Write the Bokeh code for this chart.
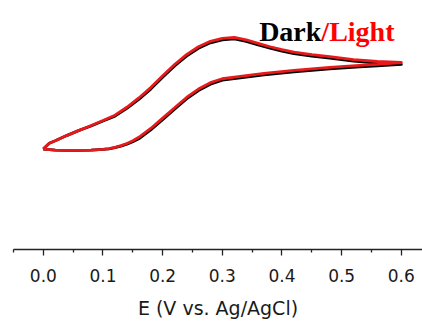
from bokeh.plotting import figure
from bokeh.models import Range1d, FixedTicker, PrintfTickFormatter, Label
from bokeh.embed import file_html
from bokeh.resources import INLINE

# Potential (V vs. Ag/AgCl) and current (arbitrary units) of the CV loops
E_forward = [0.00, 0.02, 0.04, 0.06, 0.08, 0.10, 0.11, 0.12, 0.13, 0.14, 0.15, 0.16,
             0.17, 0.18, 0.20, 0.22, 0.24, 0.26, 0.28, 0.30, 0.33, 0.37, 0.42, 0.48,
             0.53, 0.56, 0.60]
E_reverse = [0.60, 0.56, 0.52, 0.48, 0.45, 0.42, 0.40, 0.38, 0.36, 0.34, 0.32, 0.30,
             0.28, 0.26, 0.24, 0.22, 0.20, 0.18, 0.16, 0.14, 0.12, 0.10, 0.08, 0.06,
             0.04, 0.02, 0.01, 0.00]

light_forward = [0.00, -0.02, -0.026, -0.026, -0.02, -0.006, 0.01, 0.036, 0.07, 0.114,
                 0.17, 0.24, 0.33, 0.42, 0.63, 0.84, 1.05, 1.22, 1.35, 1.43, 1.48,
                 1.54, 1.60, 1.66, 1.70, 1.72, 1.76]
light_reverse = [1.76, 1.78, 1.82, 1.88, 1.92, 1.97, 2.02, 2.08, 2.15, 2.22, 2.27, 2.25,
                 2.19, 2.08, 1.92, 1.72, 1.49, 1.25, 1.04, 0.85, 0.69, 0.58, 0.48, 0.38,
                 0.28, 0.17, 0.12, 0.00]

dark_forward = [0.00, -0.02, -0.026, -0.026, -0.02, -0.006, 0.005, 0.03, 0.06, 0.10,
                0.15, 0.21, 0.30, 0.39, 0.60, 0.81, 1.02, 1.19, 1.32, 1.40, 1.45,
                1.51, 1.57, 1.63, 1.67, 1.69, 1.72]
dark_reverse = [1.72, 1.75, 1.79, 1.85, 1.89, 1.94, 1.99, 2.05, 2.12, 2.19, 2.24, 2.22,
                2.16, 2.05, 1.89, 1.69, 1.46, 1.22, 1.01, 0.83, 0.67, 0.57, 0.47, 0.38,
                0.28, 0.17, 0.12, 0.00]

major_ticks = [0.0, 0.1, 0.2, 0.3, 0.4, 0.5, 0.6]
minor_ticks = [-0.05, 0.05, 0.15, 0.25, 0.35, 0.45, 0.55]

p = figure(width=422, height=321, output_backend="svg", toolbar_location=None,
           x_range=Range1d(-0.05, 0.6355), y_range=Range1d(-2.04, 3.02),
           y_axis_location=None,
           min_border_left=13, min_border_right=0, min_border_top=0,
           min_border_bottom=68)
p.outline_line_color = None
p.xgrid.visible = False
p.ygrid.visible = False
p.background_fill_color = "white"
p.border_fill_color = "white"

p.line(E_forward + E_reverse, dark_forward + dark_reverse,
       line_color="#000000", line_width=2.8, line_join="round")
p.line(E_forward + E_reverse, light_forward + light_reverse,
       line_color="#e8191b", line_width=2.8, line_join="round")

ax = p.xaxis[0]
ax.ticker = FixedTicker(ticks=major_ticks, minor_ticks=minor_ticks)
ax.formatter = PrintfTickFormatter(format="%.1f")
ax.axis_label = "E (V vs. Ag/AgCl)"
ax.axis_label_text_font = "DejaVu Sans"
ax.axis_label_text_font_size = "19px"
ax.axis_label_text_font_style = "normal"
ax.axis_label_text_color = "#1a1a1a"
ax.axis_label_standoff = 12
ax.major_label_text_font = "DejaVu Sans"
ax.major_label_text_font_size = "17px"
ax.major_label_text_color = "#1a1a1a"
ax.major_label_standoff = 13
ax.axis_line_color = "#222222"
ax.axis_line_width = 1.3
ax.major_tick_line_color = "#222222"
ax.minor_tick_line_color = "#222222"
ax.major_tick_line_width = 1.3
ax.minor_tick_line_width = 1.3
ax.major_tick_in = 0
ax.major_tick_out = 6
ax.minor_tick_in = 0
ax.minor_tick_out = 3

p.add_layout(Label(x=0.466, y=2.38, text="Dark", text_align="right",
                   text_baseline="alphabetic", text_font="Liberation Serif",
                   text_font_style="bold", text_font_size="28px",
                   text_color="#000000"))
p.add_layout(Label(x=0.466, y=2.38, text="/Light", text_align="left",
                   text_baseline="alphabetic", text_font="Liberation Serif",
                   text_font_style="bold", text_font_size="28px",
                   text_color="#ff0000"))

open("out.html", "w").write(file_html(p, INLINE))
